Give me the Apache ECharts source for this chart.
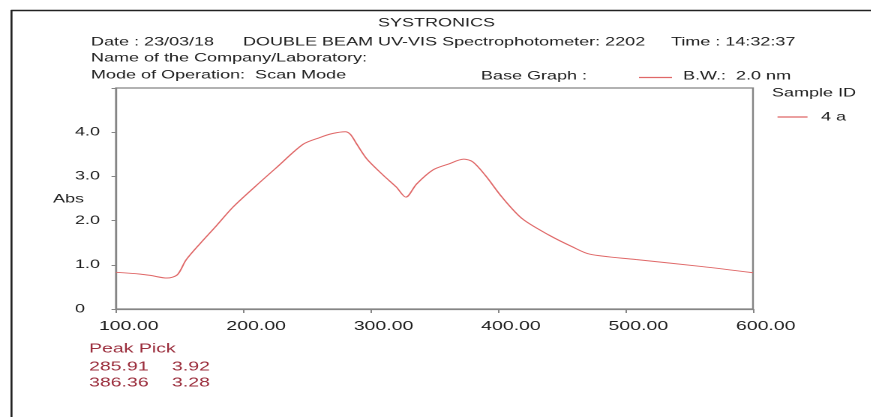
<!DOCTYPE html>
<html>
<head>
<meta charset="utf-8">
<script src="https://cdn.jsdelivr.net/npm/echarts@6/dist/echarts.min.js"></script>
<style>
  html, body { margin: 0; padding: 0; background: #ffffff; overflow: hidden; }
  #wrap { width: 872px; height: 417px; overflow: hidden; position: relative; }
  #chart { position: absolute; left: 0; top: 0; height: 417px; transform-origin: 0 0; }
</style>
</head>
<body>
<div id="wrap"><div id="chart"></div></div>
<script>
// ---- data ----
const wavelength = [100, 119, 127, 140, 148, 155, 166, 179, 192, 210, 226, 247, 260, 270, 280, 284, 289, 297, 310, 320, 327.5, 336, 349, 361, 373, 380, 390, 403, 419, 440, 458, 472, 508, 560, 600];
const absorbance = [0.83, 0.79, 0.76, 0.70, 0.77, 1.11, 1.48, 1.89, 2.31, 2.79, 3.20, 3.73, 3.88, 3.97, 4.01, 3.95, 3.73, 3.39, 3.02, 2.76, 2.53, 2.83, 3.15, 3.28, 3.39, 3.33, 3.02, 2.53, 2.04, 1.67, 1.41, 1.24, 1.12, 0.96, 0.82];
const seriesName = '4 a';
const yTickLabels = ['0', '1.0', '2.0', '3.0', '4.0', ''];
const peakWavelengths = ['285.91', '386.36'];
const peakValues = ['3.92', '3.28'];
const headerTitle = 'SYSTRONICS';
const headerDate = 'Date : 23/03/18';
const headerInstrument = 'DOUBLE BEAM UV-VIS Spectrophotometer: 2202';
const headerTime = 'Time : 14:32:37';
const headerCompany = 'Name of the Company/Laboratory:';
const headerMode = 'Mode of Operation:  Scan Mode';
const headerBase = 'Base Graph :';
const headerBW = 'B.W.:  2.0 nm';
const yAxisTitle = 'Abs';

// ---- layout (reference image is horizontally stretched) ----
const S = 1.5;               // horizontal stretch
const W = 872 / S;
const el = document.getElementById('chart');
el.style.width = W + 'px';
el.style.transform = 'scaleX(' + S + ')';
const X = px => px / S;

const FONT = '"Liberation Sans", Arial, sans-serif';
const DARK = '#1e1e1e';
const RED = '#e06868';
const MAROON = '#9b2d3c';

function txt(x, y, text, opts) {
  opts = opts || {};
  return {
    type: 'text', x: X(x), y: y, silent: true,
    style: {
      text: text,
      fontSize: opts.size || 12,
      fontFamily: FONT,
      fontWeight: opts.weight || 'normal',
      fill: opts.color || DARK,
      align: opts.align || 'left', textAlign: opts.align || 'left',
      verticalAlign: 'middle', textVerticalAlign: 'middle'
    }
  };
}
function seg(x1, y1, x2, y2, color, w) {
  return { type: 'line', silent: true,
    shape: { x1: X(x1), y1: y1, x2: X(x2), y2: y2 },
    style: { stroke: color, lineWidth: w } };
}

const chart = echarts.init(el, null, { renderer: 'canvas', devicePixelRatio: 2, width: W, height: 417 });

const data = wavelength.map((w, i) => [w, absorbance[i]]);

chart.setOption({
  backgroundColor: '#ffffff',
  animation: false,
  grid: {
    left: X(116), right: X(872 - 753), top: 88, bottom: 417 - 309,
    show: true, borderColor: '#858585', borderWidth: 1.2, backgroundColor: 'transparent'
  },
  legend: {
    data: [seriesName],
    left: X(770), top: 106,
    icon: 'rect', itemWidth: X(30), itemHeight: 1.2,
    textStyle: { fontSize: 12, fontFamily: FONT, color: DARK, padding: [0, 0, 0, 4] }
  },
  xAxis: {
    type: 'value', min: 100, max: 600, interval: 100,
    axisLine: { show: true, lineStyle: { color: '#858585', width: 1.2 } },
    axisTick: { show: true, length: 4, lineStyle: { color: '#858585', width: 1 } },
    splitLine: { show: false },
    axisLabel: {
      formatter: v => v.toFixed(2),
      fontSize: 13, fontFamily: FONT, color: DARK, margin: 11,
      padding: [0, 0, 0, 17]
    }
  },
  yAxis: {
    type: 'value', min: 0, max: 5, interval: 1,
    axisLine: { show: true, lineStyle: { color: '#858585', width: 1.2 } },
    axisTick: { show: true, length: 3, lineStyle: { color: '#858585', width: 1 } },
    splitLine: { show: false },
    axisLabel: {
      formatter: v => yTickLabels[Math.round(v)],
      align: 'left', margin: X(116 - 75),
      fontSize: 12, fontFamily: FONT, color: DARK
    }
  },
  series: [{
    name: seriesName, type: 'line', data: data,
    showSymbol: false, smooth: 0.3,
    lineStyle: { color: RED, width: 1 }, itemStyle: { color: RED }
  }],
  graphic: [
    seg(11, 10.5, 872, 10.5, '#222222', 1.5),
    seg(11.5, 10, 11.5, 417, '#222222', 1.3),
    txt(53, 199, yAxisTitle),
    txt(436.5, 23, headerTitle, { align: 'center' }),
    txt(91, 42, headerDate),
    txt(243, 42, headerInstrument),
    txt(671, 42, headerTime),
    txt(91, 58, headerCompany),
    txt(91, 75, headerMode),
    txt(481, 76, headerBase),
    seg(639, 77.5, 672, 77.5, RED, 1.2),
    txt(683, 76, headerBW),
    txt(772, 93, 'Sample ID'),
    txt(89, 349, 'Peak Pick', { size: 13, color: MAROON }),
    txt(89, 367, peakWavelengths[0], { size: 13, color: MAROON }),
    txt(172, 367, peakValues[0], { size: 13, color: MAROON }),
    txt(89, 383, peakWavelengths[1], { size: 13, color: MAROON }),
    txt(172, 383, peakValues[1], { size: 13, color: MAROON })
  ]
});
</script>
</body>
</html>
